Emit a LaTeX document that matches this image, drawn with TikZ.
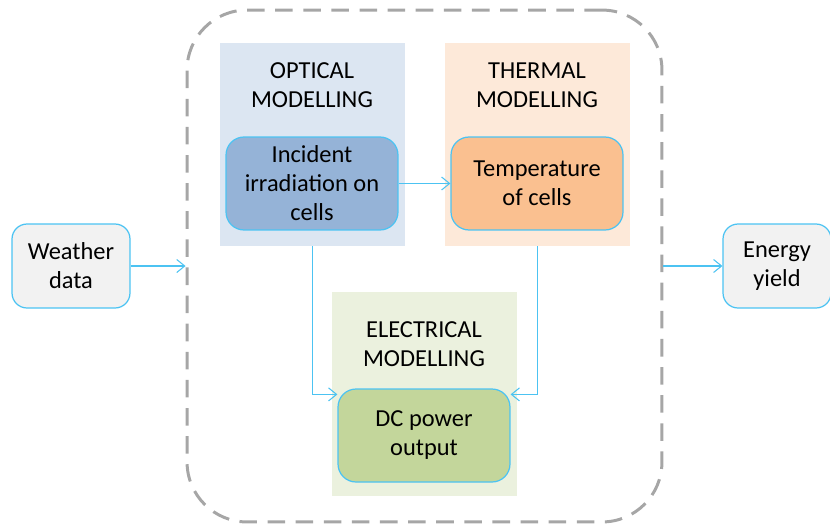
\documentclass[tikz,border=0pt]{standalone}
\usepackage{fontspec}
\setmainfont{Carlito}
\usetikzlibrary{arrows.meta,positioning}
\definecolor{edgecyan}{HTML}{4CC3F2}
\definecolor{frameline}{HTML}{A6A6A6}
\definecolor{optsoft}{HTML}{DCE6F2}
\definecolor{optfill}{HTML}{95B3D7}
\definecolor{thsoft}{HTML}{FDE9D9}
\definecolor{thfill}{HTML}{FAC090}
\definecolor{elsoft}{HTML}{EBF1DE}
\definecolor{elfill}{HTML}{C3D69B}
\definecolor{iofill}{HTML}{F2F2F2}
\tikzset{
  mbox/.style={draw=edgecyan,line width=0.7pt,rounded corners=0.36cm,align=center,inner sep=0pt,
    minimum width=3.44cm,minimum height=1.86cm},
  iobox/.style={draw=edgecyan,line width=0.7pt,fill=iofill,rounded corners=0.3cm,align=center,inner sep=0pt,
    minimum width=2.36cm,minimum height=1.68cm},
  mpanel/.style={draw=none,inner sep=0pt,minimum width=3.7cm},
  mtitle/.style={align=center},
  marr/.style={-{Straight Barb[length=1.6mm,width=2.6mm]},line width=0.6pt,draw=edgecyan}
}
\begin{document}
\begin{tikzpicture}[x=0.02cm,y=-0.02cm,font=\fontsize{13.9}{16.5}\selectfont]
  \useasboundingbox (0,0) rectangle (830,524);
  % frame
  \node[draw=frameline,line width=1.7pt,dash pattern=on 10pt off 6pt,rounded corners=1.2cm,
    minimum width=9.5cm,minimum height=10.24cm,inner sep=0pt] (frame) at (424.5,266) {};
  % panels
  \node[mpanel,fill=optsoft,minimum height=4.06cm] (opt) at (312.5,144.5) {};
  \node[mpanel,fill=thsoft,minimum height=4.06cm] (th) at (537.5,144.5) {};
  \node[mpanel,fill=elsoft,minimum height=4.08cm] (el) at (424.5,394) {};
  \node[mtitle] (optt) at (312,85) {OPTICAL\\MODELLING};
  \node[mtitle] (tht) at (537,85) {THERMAL\\MODELLING};
  \node[mtitle] (elt) at (424,344) {ELECTRICAL\\MODELLING};
  % models
  \node[mbox,fill=optfill] (inc) at (312,183.5) {Incident\\irradiation on\\cells};
  \node[mbox,fill=thfill] (temp) at (537,183.5) {Temperature\\of cells};
  \node[mbox,fill=elfill] (dc) at (424,435.5) {DC power\\output};
  % in and out
  \node[iobox] (wd) at (71,266) {Weather\\data};
  \node[iobox,minimum width=2.16cm] (ey) at (777,266) {Energy\\yield};
  \draw[marr] (wd) -- (frame.west);
  \draw[marr] (frame.east) -- (ey);
  \draw[marr] (inc) -- (temp);
  \draw[marr] (opt.south) |- ([yshift=-0.12cm]dc.north west);
  \draw[marr] (th.south) |- ([yshift=-0.12cm]dc.north east);
\end{tikzpicture}
\end{document}
